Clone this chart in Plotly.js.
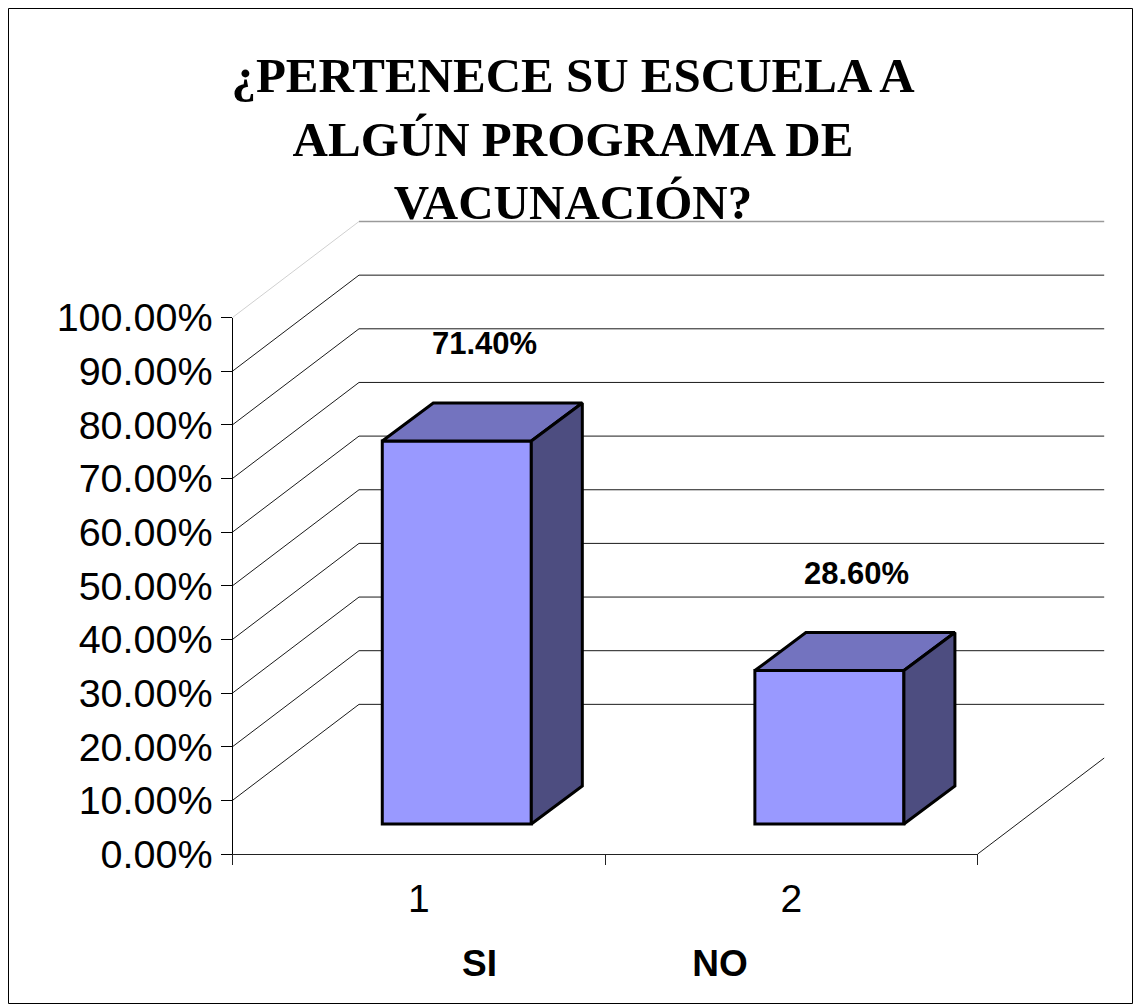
<!DOCTYPE html>
<html><head><meta charset="utf-8">
<script src="https://cdn.plot.ly/plotly-3.0.1.min.js"></script>
<style>html,body{margin:0;padding:0;background:#fff}</style>
</head><body><div id="chart" style="width:1133px;height:1004px"></div>
<script>
// ---- data ----
const titleLines = ['¿PERTENECE SU ESCUELA A', 'ALGÚN PROGRAMA DE', 'VACUNACIÓN?'];
const categories = ['1', '2'];
const answers = ['SI', 'NO'];
const percentages = [0.714, 0.286];
const yTickValues = [0, 0.1, 0.2, 0.3, 0.4, 0.5, 0.6, 0.7, 0.8, 0.9, 1.0];

// ---- geometry / style ----
const W = 1133, H = 1004;
const FRONT = {x0: 232.5, x1: 977.7, yb: 854, yt: 317.5};
const BAR_PLANE = {dx: 38, dy: 30};
const WALL = {dx: 126.5, dy: 96};
const BAR_DEPTH = {dx: 51, dy: 38};
const BAR_WIDTH = 0.4;
const PAD = 0.1;
const DEPTH_BOX = {yb: 880, yt: 190};
const SANS = 'Liberation Sans, Arial, sans-serif';
const SERIF = 'Liberation Serif, Times New Roman, serif';

const n = categories.length;
const catPx = (FRONT.x1 - FRONT.x0) / n;
const valPx = FRONT.yb - FRONT.yt;
const xRange = [0.5, n + 0.5];
const positions = categories.map((c, i) => i + 1);
const xd = (a, b) => [a / W, b / W];
const yd = (b, t) => [1 - b / H, 1 - t / H];
const depthX = BAR_DEPTH.dx / catPx, depthY = BAR_DEPTH.dy / valPx;
const wallSlant = WALL.dy / valPx;

// ---- traces ----
const traces = [{
  type: 'bar', x: positions, y: percentages, width: BAR_WIDTH,
  xaxis: 'x2', yaxis: 'y2',
  marker: {color: '#9999FF', line: {color: '#000', width: 3}},
  hoverinfo: 'skip', showlegend: false
}];
positions.forEach((p, i) => {
  const v = percentages[i], l = p - BAR_WIDTH / 2, r = p + BAR_WIDTH / 2;
  traces.push({
    type: 'scatter', mode: 'lines', xaxis: 'x2', yaxis: 'y2', fill: 'toself',
    x: [l, r, r + depthX, l + depthX, l], y: [v, v, v + depthY, v + depthY, v],
    fillcolor: '#7373BF', line: {color: '#000', width: 3}, hoverinfo: 'skip', showlegend: false
  });
  traces.push({
    type: 'scatter', mode: 'lines', xaxis: 'x2', yaxis: 'y2', fill: 'toself',
    x: [r, r + depthX, r + depthX, r, r], y: [0, depthY, v + depthY, v, 0],
    fillcolor: '#4D4D80', line: {color: '#000', width: 3}, hoverinfo: 'skip', showlegend: false
  });
});

// ---- wall shapes (lower layer, y through depth axis y3) ----
const shapes = [];
yTickValues.forEach(v => {
  if (v === 0) return;
  const top = v === 1;
  shapes.push({type: 'line', layer: 'below', xref: 'paper', yref: 'y3',
    x0: (FRONT.x0 + WALL.dx) / W, x1: (FRONT.x1 + WALL.dx) / W, y0: v + wallSlant, y1: v + wallSlant,
    line: {color: top ? '#9a9a9a' : '#1a1a1a', width: top ? 1.5 : 1}});
  shapes.push({type: 'line', layer: 'below', xref: 'paper', yref: 'y3',
    x0: FRONT.x0 / W, x1: (FRONT.x0 + WALL.dx) / W, y0: v, y1: v + wallSlant,
    line: {color: top ? '#d0d0d0' : '#1a1a1a', width: 1}});
});
shapes.push({type: 'line', layer: 'below', xref: 'paper', yref: 'y3',
  x0: FRONT.x1 / W, x1: (FRONT.x1 + WALL.dx) / W, y0: 0, y1: wallSlant,
  line: {color: '#1a1a1a', width: 1}});
shapes.push({type: 'rect', xref: 'paper', yref: 'paper',
  x0: 8.5 / W, x1: 1132.5 / W, y0: 1 - 1003.5 / H, y1: 1 - 8.5 / H,
  line: {color: '#000', width: 1}, fillcolor: 'rgba(0,0,0,0)'});

// ---- annotations ----
const annotations = positions.map((p, i) => ({
  xref: 'x2', yref: 'y2', x: p, y: percentages[i],
  text: (percentages[i] * 100).toFixed(2) + '%', showarrow: false,
  xshift: BAR_DEPTH.dx / 2 + 2, yshift: 97, xanchor: 'center', yanchor: 'middle',
  font: {family: SANS, size: 31, color: '#000', weight: 'bold'}
}));
annotations.push({
  xref: 'x', yref: 'paper', x: (xRange[0] + xRange[1]) / 2, y: 1 - 963 / H,
  text: answers.join('\u00A0'.repeat(19)), showarrow: false,
  xanchor: 'center', yanchor: 'middle',
  font: {family: SANS, size: 37, color: '#000', weight: 'bold'}
});

const planeBottom = FRONT.yb - BAR_PLANE.dy + PAD * valPx;
const layout = {
  width: W, height: H, autosize: false,
  margin: {l: 0, r: 0, t: 0, b: 0, pad: 0},
  paper_bgcolor: '#fff', plot_bgcolor: 'rgba(0,0,0,0)',
  showlegend: false,
  title: {
    text: titleLines.join('<br>'), x: 573 / W, xanchor: 'center', xref: 'paper',
    y: 1 - 92 / H, yref: 'container', yanchor: 'top',
    font: {family: SERIF, size: 49, color: '#000', weight: 'bold'}
  },
  xaxis: {
    domain: xd(FRONT.x0, FRONT.x1), range: xRange, anchor: 'y',
    tickmode: 'array', tickvals: positions, ticktext: categories, ticks: '',
    minor: {tickmode: 'linear', tick0: 0.5, dtick: 1, ticks: 'outside', ticklen: 10, tickcolor: '#222', tickwidth: 1},
    ticklabelstandoff: 10,
    tickfont: {family: SANS, size: 39, color: '#000'},
    showline: true, linecolor: '#222', linewidth: 1,
    showgrid: false, zeroline: false, fixedrange: true
  },
  yaxis: {
    domain: yd(FRONT.yb, FRONT.yt), range: [0, 1], anchor: 'x',
    tickmode: 'array', tickvals: yTickValues, tickformat: '.2%',
    ticks: 'outside', ticklen: 11, tickcolor: '#000', tickwidth: 1,
    tickfont: {family: SANS, size: 39.5, color: '#000'},
    showline: true, linecolor: '#000', linewidth: 1,
    showgrid: false, zeroline: false, fixedrange: true
  },
  xaxis2: {
    domain: xd(FRONT.x0 + BAR_PLANE.dx, FRONT.x1 + BAR_PLANE.dx), range: xRange, anchor: 'y2',
    visible: false, fixedrange: true
  },
  yaxis2: {
    domain: yd(planeBottom, FRONT.yt - BAR_PLANE.dy), range: [-PAD, 1], anchor: 'x2',
    visible: false, fixedrange: true
  },
  xaxis3: {domain: [0, 1], range: [0, 1], anchor: 'y3', visible: false, fixedrange: true},
  yaxis3: {
    domain: yd(DEPTH_BOX.yb, DEPTH_BOX.yt),
    range: [-(DEPTH_BOX.yb - FRONT.yb) / valPx, (FRONT.yb - DEPTH_BOX.yt) / valPx],
    anchor: 'x3', visible: false, fixedrange: true
  },
  shapes: shapes,
  annotations: annotations
};

Plotly.newPlot('chart', traces, layout, {displayModeBar: false, staticPlot: true});
</script>
</body></html>
